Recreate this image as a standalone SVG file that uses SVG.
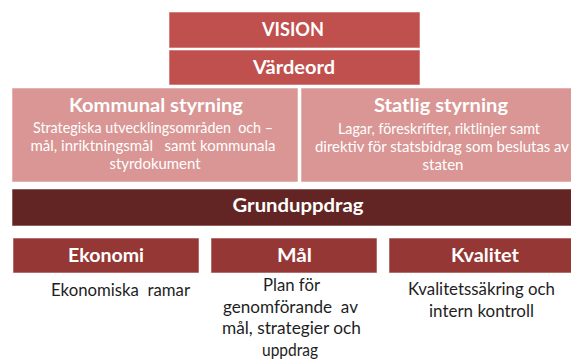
<svg xmlns="http://www.w3.org/2000/svg" width="571" height="360" viewBox="0 0 571 360">
  <style>
    .box { stroke: #ffffff; stroke-opacity: 0.55; stroke-width: 1; }
    .red { fill: #C0504D; }
    .pink { fill: #D99694; }
    .dark { fill: #632523; }
    .mid { fill: #953735; }
    text { font-family: Lato, "Open Sans", "Liberation Sans", sans-serif; text-anchor: middle; white-space: pre; }
    .title { font-weight: bold; font-size: 19px; fill: #ffffff; }
    .sub { font-size: 15px; fill: #ffffff; }
    .body { font-size: 17px; fill: #1e1e1e; }
  </style>
  <rect x="0" y="0" width="571" height="360" fill="#ffffff"/>
  <g id="connectors"></g>
  <g id="vision">
    <rect class="box red" x="169" y="12" width="251" height="36"/>
    <text class="title" x="293" y="36" textLength="62" lengthAdjust="spacingAndGlyphs">VISION</text>
  </g>
  <g id="vardeord">
    <rect class="box red" x="169" y="50" width="251" height="35"/>
    <text class="title" x="294" y="74" textLength="82" lengthAdjust="spacingAndGlyphs">Värdeord</text>
  </g>
  <g id="kommunal">
    <rect class="box pink" x="12" y="88" width="286" height="94"/>
    <text class="title" x="156" y="112" textLength="174" lengthAdjust="spacingAndGlyphs">Kommunal styrning</text>
    <text class="sub" x="153" y="133" textLength="240" lengthAdjust="spacingAndGlyphs" xml:space="preserve">Strategiska utvecklingsområden  och –</text>
    <text class="sub" x="153" y="151" textLength="245" lengthAdjust="spacingAndGlyphs" xml:space="preserve">mål, inriktningsmål   samt kommunala</text>
    <text class="sub" x="155" y="169" textLength="91" lengthAdjust="spacingAndGlyphs">styrdokument</text>
  </g>
  <g id="statlig">
    <rect class="box pink" x="301" y="88" width="280" height="94"/>
    <text class="title" x="441" y="112" textLength="134" lengthAdjust="spacingAndGlyphs">Statlig styrning</text>
    <text class="sub" x="439" y="134" textLength="202" lengthAdjust="spacingAndGlyphs">Lagar, föreskrifter, riktlinjer samt</text>
    <text class="sub" x="442" y="152" textLength="254" lengthAdjust="spacingAndGlyphs">direktiv för statsbidrag som beslutas av</text>
    <text class="sub" x="443" y="170" textLength="41" lengthAdjust="spacingAndGlyphs">staten</text>
  </g>
  <g id="grunduppdrag">
    <rect class="box dark" x="12" y="189" width="570" height="37"/>
    <text class="title" x="298" y="212" textLength="131" lengthAdjust="spacingAndGlyphs">Grunduppdrag</text>
  </g>
  <g id="ekonomi">
    <rect class="box mid" x="13" y="238" width="186" height="35"/>
    <text class="title" x="106" y="262" textLength="76" lengthAdjust="spacingAndGlyphs">Ekonomi</text>
    <text class="body" x="120.5" y="296" textLength="139" lengthAdjust="spacingAndGlyphs" xml:space="preserve">Ekonomiska  ramar</text>
  </g>
  <g id="mal">
    <rect class="box mid" x="211" y="238" width="166" height="35"/>
    <text class="title" x="294.5" y="262" textLength="35" lengthAdjust="spacingAndGlyphs">Mål</text>
    <text class="body" x="291.5" y="291" textLength="57" lengthAdjust="spacingAndGlyphs">Plan för</text>
    <text class="body" x="290.5" y="312.5" textLength="135" lengthAdjust="spacingAndGlyphs" xml:space="preserve">genomförande  av</text>
    <text class="body" x="291.5" y="334" textLength="139" lengthAdjust="spacingAndGlyphs">mål, strategier och</text>
    <text class="body" x="290" y="355.5" textLength="56" lengthAdjust="spacingAndGlyphs">uppdrag</text>
  </g>
  <g id="kvalitet">
    <rect class="box mid" x="389" y="238" width="192" height="35"/>
    <text class="title" x="485" y="262" textLength="68" lengthAdjust="spacingAndGlyphs">Kvalitet</text>
    <text class="body" x="481.5" y="294.5" textLength="147" lengthAdjust="spacingAndGlyphs">Kvalitetssäkring och</text>
    <text class="body" x="481.5" y="317" textLength="105" lengthAdjust="spacingAndGlyphs">intern kontroll</text>
  </g>
</svg>
